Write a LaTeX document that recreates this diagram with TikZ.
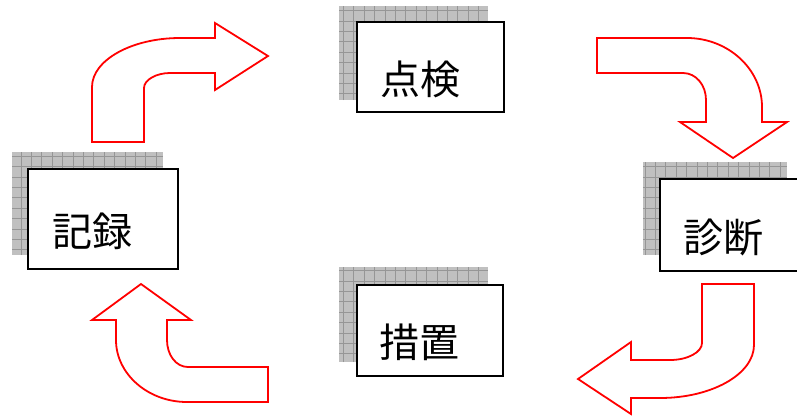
\documentclass[tikz,border=0pt]{standalone}
\usepackage{fontspec}
\setmainfont{Noto Sans CJK JP}
\definecolor{shadowgray}{RGB}{192,192,192}
\definecolor{gridgray}{RGB}{150,150,150}
\tikzset{
  stepbox/.style={draw, line width=2pt, fill=white, inner sep=0pt},
  boxtext/.style={font=\fontsize{40}{48}\selectfont, xshift=-10.5pt, yshift=-12pt},
  bigarrow/.style={draw=red, line width=1.8pt, fill=white, line join=miter},
}
\begin{document}
\begin{tikzpicture}[x=1pt,y=-1pt]
    \useasboundingbox (0,0) rectangle (797,416);
    % hatched shadows behind the boxes
    \foreach \sx/\sy/\sw/\sh in {339/6/149/94, 12/152/151/103, 643/162/144/93, 339/267/149/95}{
        \begin{scope}
            \clip (\sx,\sy) rectangle ++(\sw,\sh);
            \fill[shadowgray] (\sx,\sy) rectangle ++(\sw,\sh);
            \draw[gridgray, line width=0.6pt, step=10.4pt] (\sx,\sy) grid ++(\sw,\sh);
        \end{scope}
    }
    % boxes
    \node[stepbox, minimum width=147pt, minimum height=90pt, label={[boxtext]center:点検}] (tenken) at (430.5,67) {};
    \node[stepbox, minimum width=150pt, minimum height=100pt, label={[boxtext]center:記録}] (kiroku) at (103,219) {};
    \node[stepbox, minimum width=148pt, minimum height=92pt, label={[boxtext]center:診断}] (shindan) at (734,225) {};
    \node[stepbox, minimum width=146pt, minimum height=91pt, label={[boxtext]center:措置}] (sochi) at (430,330.5) {};
    % curved block arrows
    \draw[bigarrow] (92,142) -- (92,87) .. controls (92,60) and (132,38) .. (180,38) -- (215,38) -- (215,23)
        -- (268,56) -- (215,90) -- (215,73) -- (170,73) .. controls (156,73) and (144,80) .. (144,88) -- (144,142) -- cycle;
    \draw[bigarrow] (597,38) -- (687,38) .. controls (728,38) and (762,69) .. (762,107) -- (762,122) -- (787,122)
        -- (733,158) -- (680,122) -- (706,122) -- (706,100) .. controls (706,85) and (696,73) .. (683,73) -- (597,73) -- cycle;
    \draw[bigarrow] (702,284) -- (754,284) -- (754,345) .. controls (754,374) and (712,398) .. (660,398) -- (631,398)
        -- (631,414) -- (578,379) -- (631,342) -- (631,360) -- (670,360) .. controls (688,360) and (702,352) .. (702,343) -- cycle;
    \draw[bigarrow] (268,402) -- (187,402) .. controls (148,402) and (116,374) .. (116,340) -- (116,320) -- (92,320)
        -- (141,284) -- (191,320) -- (167,320) -- (167,340) .. controls (167,355) and (176,367) .. (188,367) -- (268,367) -- cycle;
\end{tikzpicture}
\end{document}
